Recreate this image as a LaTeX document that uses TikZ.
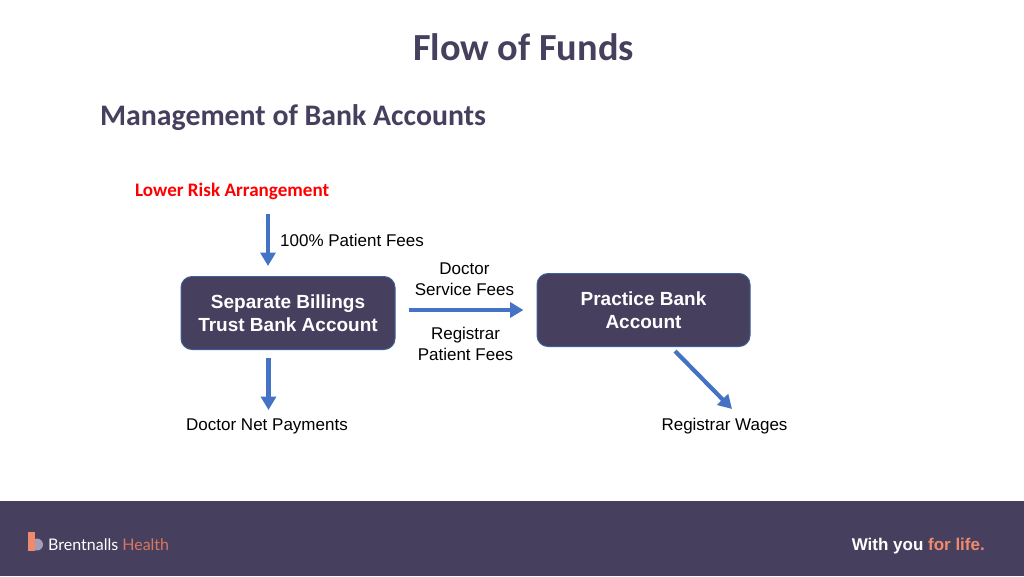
\documentclass[tikz,border=0pt]{standalone}
\usepackage{fontspec}
\setmainfont{Liberation Sans}
\newfontfamily\headfont{Carlito}
\newfontfamily\logofont{Lato}
\usetikzlibrary{arrows.meta}
\definecolor{navy}{HTML}{463F5E}
\definecolor{flowblue}{HTML}{4472C4}
\definecolor{edgeblue}{HTML}{3F5F9A}
\definecolor{coral}{HTML}{F08A6C}
\definecolor{logocoral}{HTML}{D9775F}
\definecolor{logolilac}{HTML}{A39DB5}
\tikzset{
  acct/.style={draw=edgeblue,line width=1pt,fill=navy,rounded corners=11pt,text=white,align=center,font=\fontsize{19}{23}\selectfont\bfseries,inner sep=0pt},
  flow/.style={draw=flowblue,line width=4.2pt,-{Triangle[length=13.5pt,width=15pt]}},
  lab/.style={text=black,align=center,font=\fontsize{17}{20.5}\selectfont,inner sep=0pt},
  head/.style={text=navy,font=\headfont\bfseries,inner sep=0pt,anchor=base west}
}
\begin{document}
\begin{tikzpicture}[x=1pt,y=-1pt]
\useasboundingbox (0,0) rectangle (1024,576);
\fill[white] (0,0) rectangle (1024,576);
\fill[navy] (0,501) rectangle (1024,576);
\node[head,font=\headfont\bfseries\fontsize{38.3}{42}\selectfont] (title) at (413,60) {Flow of Funds};
\node[head,font=\headfont\bfseries\fontsize{29.8}{34}\selectfont] (sub) at (100,125) {Management of Bank Accounts};
\node[head,text=red,font=\headfont\bfseries\fontsize{19.1}{22}\selectfont] (risk) at (135,196) {Lower Risk Arrangement};
\node[acct,minimum width=214pt,minimum height=73pt] (a) at (288,313) {\raisebox{-1pt}{Separate Billings}\\\raisebox{-1pt}{Trust Bank Account}};
\node[acct,minimum width=213pt,minimum height=73pt] (b) at (643.5,310) {\raisebox{-1pt}{Practice Bank}\\\raisebox{-1pt}{Account}};
\node[lab,anchor=base west] (fees) at (280,246.5) {100\% Patient Fees};
\node[lab] (svc) at (464.5,279) {Doctor\\Service Fees};
\node[lab] (reg) at (465.5,344) {Registrar\\Patient Fees};
\node[lab,anchor=base] (net) at (267,430) {Doctor Net Payments};
\node[lab,anchor=base] (wages) at (724.5,430) {Registrar Wages};
\coordinate (in) at (268,214);
\coordinate (inend) at (268,266);
\coordinate (out) at (268.5,410);
\coordinate (dstart) at (675,351);
\coordinate (dend) at (732,409);
\draw[flow] (in) -- (inend);
\draw[flow,shorten <=8pt] (a.south -| out) -- (out);
\draw[flow,shorten <=13pt,shorten >=13pt] (a.east |- b.west) -- (b.west);
\draw[flow] (dstart) -- (dend);
% logo
\fill[logolilac] (37,544.5) circle (6pt);
\fill[coral] (28,532) rectangle (35,550.5);
\node[anchor=base west,inner sep=0pt,font=\logofont\fontsize{16}{20}\selectfont,text=white] (logo) at (48,550) {Brentnalls \textcolor{logocoral}{Health}};
\node[anchor=base east,inner sep=0pt,text=white,font=\fontsize{17}{20}\selectfont\bfseries] (tag) at (985,550.5) {With you \textcolor{coral}{for life.}};
\end{tikzpicture}
\end{document}
